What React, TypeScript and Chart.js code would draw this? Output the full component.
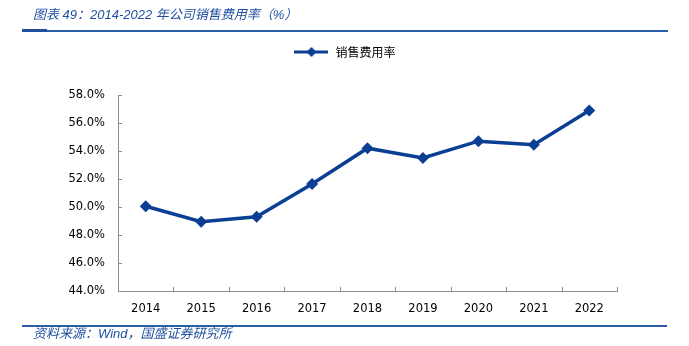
import React, { useEffect, useRef } from "react";
import { Chart, registerables } from "chart.js";

Chart.register(...registerables);

const categories = ["2014", "2015", "2016", "2017", "2018", "2019", "2020", "2021", "2022"];
const salesExpenseRatio = [50.05, 48.95, 49.3, 51.65, 54.2, 53.5, 54.7, 54.45, 56.9];
const seriesName = "销售费用率";
const yMin = 44;
const yMax = 58;
const yStep = 2;

const LINE_COLOR = "#0a3f94";
const AXIS_COLOR = "#8c8c8c";

function makeLegendIcon(): HTMLCanvasElement {
  const c = document.createElement("canvas");
  c.width = 34;
  c.height = 14;
  const ctx = c.getContext("2d")!;
  ctx.strokeStyle = LINE_COLOR;
  ctx.lineWidth = 3;
  ctx.beginPath();
  ctx.moveTo(0, 7);
  ctx.lineTo(34, 7);
  ctx.stroke();
  ctx.fillStyle = LINE_COLOR;
  ctx.beginPath();
  ctx.moveTo(17, 2);
  ctx.lineTo(22, 7);
  ctx.lineTo(17, 12);
  ctx.lineTo(12, 7);
  ctx.closePath();
  ctx.fill();
  return c;
}

const innerTicks = {
  id: "innerTicks",
  afterDraw(chart: any) {
    const { ctx, chartArea, scales } = chart;
    const y = scales.y;
    ctx.save();
    ctx.strokeStyle = AXIS_COLOR;
    ctx.lineWidth = 1;
    ctx.beginPath();
    y.ticks.forEach((t: any) => {
      const py = Math.round(y.getPixelForValue(t.value)) + 0.5;
      ctx.moveTo(chartArea.left, py);
      ctx.lineTo(chartArea.left + 4, py);
    });
    const n = categories.length;
    const w = (chartArea.right - chartArea.left) / n;
    for (let i = 0; i <= n; i++) {
      const px = Math.round(chartArea.left + i * w) + 0.5;
      ctx.moveTo(px, chartArea.bottom);
      ctx.lineTo(px, chartArea.bottom - 4);
    }
    ctx.stroke();
    ctx.restore();
  },
};

function LineChart() {
  const ref = useRef<HTMLCanvasElement | null>(null);
  useEffect(() => {
    if (!ref.current) return;
    const icon = makeLegendIcon();
    const chart = new Chart(ref.current, {
      type: "line",
      data: {
        labels: categories,
        datasets: [
          {
            label: seriesName,
            data: salesExpenseRatio,
            borderColor: LINE_COLOR,
            backgroundColor: LINE_COLOR,
            borderWidth: 3.5,
            pointStyle: "rectRot",
            pointRadius: 6,
            pointBackgroundColor: LINE_COLOR,
            pointBorderColor: LINE_COLOR,
            pointBorderWidth: 0,
            tension: 0,
            xAxisID: "x",
            yAxisID: "y",
          },
        ],
      },
      options: {
        animation: false,
        responsive: false,
        maintainAspectRatio: false,
        layout: { padding: { top: 20, left: 0, right: 0, bottom: 0 } },
        plugins: {
          tooltip: { enabled: false },
          legend: {
            display: true,
            position: "top",
            labels: {
              usePointStyle: true,
              pointStyle: icon as any,
              pointStyleWidth: 36,
              padding: 26,
              color: "#000",
              font: { family: "'Noto Sans CJK SC', sans-serif", size: 12 },
              generateLabels: (ch: any) =>
                ch.data.datasets.map((d: any, i: number) => ({
                  text: d.label,
                  pointStyle: icon,
                  fillStyle: LINE_COLOR,
                  strokeStyle: LINE_COLOR,
                  lineWidth: 0,
                  hidden: false,
                  datasetIndex: i,
                  fontColor: "#000",
                })),
            },
          },
        },
        scales: {
          x: {
            type: "category",
            offset: true,
            grid: { display: false, drawTicks: false },
            border: { display: true, color: AXIS_COLOR, width: 1 },
            ticks: {
              color: "#000",
              padding: 11,
              font: { family: "'DejaVu Sans', sans-serif", size: 11.5 },
              maxRotation: 0,
            },
            afterFit: (s: any) => {
              s.height = 55;
            },
          },
          xTopSpacer: {
            type: "category",
            position: "top",
            display: true,
            grid: { display: false, drawTicks: false },
            border: { display: false },
            ticks: { display: false },
            afterFit: (s: any) => {
              s.height = 27;
            },
          },
          y: {
            position: "left",
            min: yMin,
            max: yMax,
            grid: { display: false, drawTicks: false },
            border: { display: true, color: AXIS_COLOR, width: 1 },
            ticks: {
              stepSize: yStep,
              color: "#000",
              padding: 13,
              font: { family: "'DejaVu Sans', sans-serif", size: 11.5 },
              callback: (v: any) => Number(v).toFixed(1) + "%",
            },
            afterFit: (s: any) => {
              s.width = 118;
            },
          },
          y2: {
            position: "right",
            display: true,
            grid: { display: false, drawTicks: false },
            border: { display: false },
            ticks: { display: false },
            afterFit: (s: any) => {
              s.width = 72;
            },
          },
        },
      },
      plugins: [innerTicks],
    });
    return () => chart.destroy();
  }, []);
  return (
    <canvas
      ref={ref}
      width={689}
      height={346}
      style={{ position: "absolute", left: 0, top: 0, width: 689, height: 346 }}
    />
  );
}

export default function App() {
  useEffect(() => {
    document.body.style.margin = "0";
  }, []);
  const blue = "#1f4f9e";
  return (
    <div style={{ position: "relative", width: 689, height: 346, background: "#fff", overflow: "hidden" }}>
      <LineChart />
      <div
        style={{
          position: "absolute",
          left: 33,
          top: 5,
          fontFamily: "'Liberation Sans', 'Noto Sans CJK SC', sans-serif",
          fontStyle: "italic",
          fontSize: 13,
          color: blue,
          whiteSpace: "nowrap",
          lineHeight: "20px",
        }}
      >
        图表 49：2014-2022 年公司销售费用率（%）
      </div>
      <div style={{ position: "absolute", left: 22, top: 30, width: 646, height: 2, background: "#2a5ea9" }} />
      <div style={{ position: "absolute", left: 22, top: 29, width: 25, height: 3, background: "#1f4f9e" }} />
      <div style={{ position: "absolute", left: 22, top: 325, width: 645, height: 2, background: "#2a5ea9" }} />
      <div
        style={{
          position: "absolute",
          left: 33,
          top: 325,
          fontFamily: "'Liberation Sans', 'Noto Sans CJK SC', sans-serif",
          fontStyle: "italic",
          fontSize: 13,
          color: blue,
          whiteSpace: "nowrap",
          lineHeight: "18px",
        }}
      >
        资料来源：Wind，国盛证券研究所
      </div>
    </div>
  );
}
